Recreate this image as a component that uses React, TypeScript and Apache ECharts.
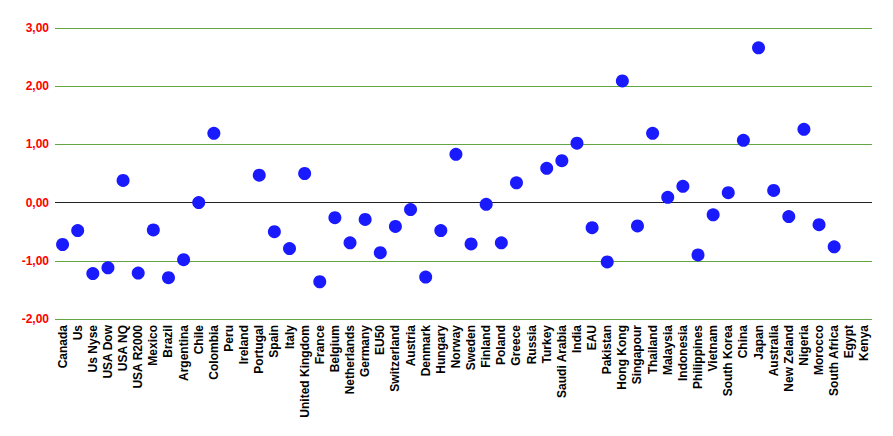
import React, { useEffect, useRef } from "react";
import * as echarts from "echarts";

const categories: string[] = [
  "Canada", "Us", "Us Nyse", "USA Dow", "USA NQ", "USA R2000", "Mexico", "Brazil", "Argentina", "Chile",
  "Colombia", "Peru", "Ireland", "Portugal", "Spain", "Italy", "United Kingdom", "France", "Belgium", "Netherlands",
  "Germany", "EU50", "Switzerland", "Austria", "Denmark", "Hungary", "Norway", "Sweden", "Finland", "Poland",
  "Greece", "Russia", "Turkey", "Saudi Arabia", "India", "EAU", "Pakistan", "Hong Kong", "Singapour", "Thailand",
  "Malaysia", "Indonesia", "Philippines", "Vietnam", "South Korea", "China", "Japan", "Australia", "New Zeland", "Nigeria",
  "Morocco", "South Africa", "Egypt", "Kenya",
];

const values: (number | null)[] = [
  -0.72, -0.48, -1.22, -1.12, 0.38, -1.21, -0.47, -1.29, -0.98, 0.0,
  1.19, null, null, 0.47, -0.5, -0.79, 0.5, -1.36, -0.26, -0.69,
  -0.29, -0.86, -0.41, -0.12, -1.28, -0.48, 0.83, -0.71, -0.03, -0.69,
  0.34, null, 0.59, 0.72, 1.02, -0.43, -1.02, 2.09, -0.40, 1.19,
  0.09, 0.28, -0.9, -0.21, 0.17, 1.07, 2.66, 0.21, -0.24, 1.26,
  -0.38, -0.76, null, null,
];

const yMin = -2;
const yMax = 3;

export default function App() {
  const ref = useRef<HTMLDivElement>(null);
  useEffect(() => {
    if (!ref.current) return;
    const chart = echarts.init(ref.current, null, { renderer: "svg" });
    const green = "#64a643";
    chart.setOption({
      animation: false,
      backgroundColor: "#ffffff",
      grid: { left: 55, right: 21, top: 28, bottom: 117, containLabel: false },
      xAxis: {
        type: "category",
        data: categories,
        boundaryGap: true,
        axisLine: { show: false },
        axisTick: { show: false },
        splitLine: { show: false },
        axisLabel: {
          interval: 0,
          rotate: 90,
          margin: 6,
          color: "#000000",
          fontFamily: "Liberation Sans, Arial, sans-serif",
          fontWeight: "bold",
          fontSize: 12,
        },
      },
      yAxis: {
        type: "value",
        min: yMin,
        max: yMax,
        interval: 1,
        axisLine: { show: false },
        axisTick: { show: false },
        axisLabel: {
          margin: 6,
          color: "#ff0000",
          fontFamily: "Liberation Sans, Arial, sans-serif",
          fontWeight: "bold",
          fontSize: 12,
          formatter: (v: number) => v.toFixed(2).replace(".", ","),
        },
        splitLine: {
          show: true,
          lineStyle: {
            width: 1,
            color: [green, green, "#222222", green, green, green],
          },
        },
      },
      series: [
        {
          type: "scatter",
          symbol: "circle",
          symbolSize: 13,
          itemStyle: { color: "#1a1aff", opacity: 1 },
          data: values.map((v, i) => (v === null ? [i, "-"] : [i, v])),
        },
      ],
    });
    return () => chart.dispose();
  }, []);
  return <div ref={ref} style={{ width: 893, height: 436, position: "absolute", left: 0, top: 0 }} />;
}
